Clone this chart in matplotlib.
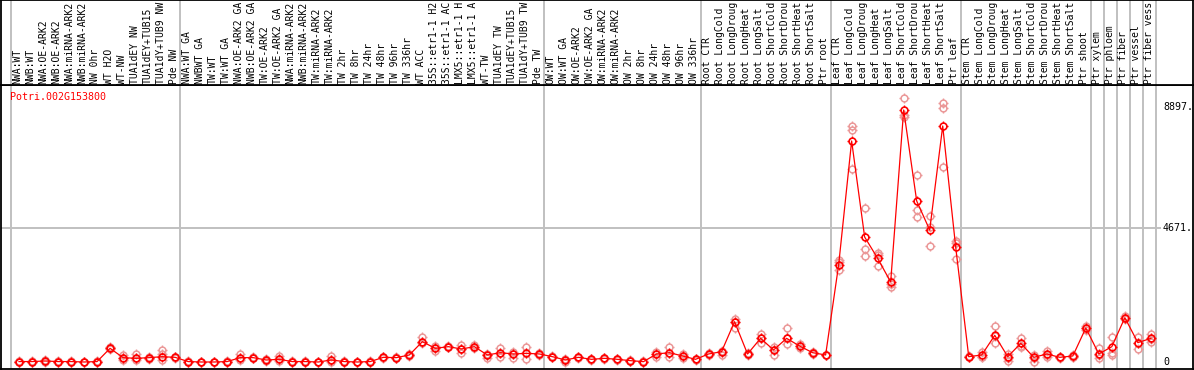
import matplotlib
matplotlib.use("Agg")
import matplotlib.pyplot as plt
from matplotlib.path import Path

labels = [
    "NWA:WT", "NWB:WT", "NWA:OE-ARK2", "NWB:OE-ARK2", "NWA:miRNA-ARK2", "NWB:miRNA-ARK2",
    "NW 0hr", "WT H2O", "WT-NW", "TUA1dEY NW", "TUA1dEY+TUB15", "TUA1dY+TUB9 NW", "Pde NW",
    "NWA:WT GA", "NWBWT GA", "TW:WT", "TW:WT GA", "NWA:OE-ARK2 GA", "NWB:OE-ARK2 GA",
    "TW:OE-ARK2", "TW:OE-ARK2 GA", "NWA:miRNA-ARK2", "NWB:miRNA-ARK2", "TW:miRNA-ARK2",
    "TW:miRNA-ARK2", "TW 2hr", "TW 8hr", "TW 24hr", "TW 48hr", "TW 96hr", "TW 336hr",
    "WT ACC", "35S::etr1-1 H2O", "35S::etr1-1 ACC", "LMX5::etr1-1 H2O", "LMX5::etr1-1 ACC",
    "WT-TW", "TUA1dEY TW", "TUA1dEY+TUB15", "TUA1dY+TUB9 TW", "Pde TW",
    "OW:WT", "OW:WT GA", "OW:OE-ARK2", "OW:OE-ARK2 GA", "OW:miRNA-ARK2", "OW:miRNA-ARK2",
    "OW 2hr", "OW 8hr", "OW 24hr", "OW 48hr", "OW 96hr", "OW 336hr",
    "Root CTR", "Root LongCold", "Root LongDrought", "Root LongHeat", "Root LongSalt",
    "Root ShortCold", "Root ShortDrought", "Root ShortHeat", "Root ShortSalt", "Ptr root",
    "Leaf CTR", "Leaf LongCold", "Leaf LongDrought", "Leaf LongHeat", "Leaf LongSalt",
    "Leaf ShortCold", "Leaf ShortDrought", "Leaf ShortHeat", "Leaf ShortSalt", "Ptr leaf",
    "Stem CTR", "Stem LongCold", "Stem LongDrought", "Stem LongHeat", "Stem LongSalt",
    "Stem ShortCold", "Stem ShortDrought", "Stem ShortHeat", "Stem ShortSalt", "Ptr shoot",
    "Ptr xylem", "Ptr phloem", "Ptr fiber", "Ptr vessel", "Ptr fiber vessel",
]

means = [
    15, 15, 35, 15, 15, 0, 15, 478, 152, 128, 152, 186, 163,
    15, 0, 0, 15, 152, 152, 70, 93, 15, 15, 0, 70, 15, 0, 15, 163, 152, 245,
    710, 478, 536, 454, 536, 245, 326, 280, 303, 280,
    186, 70, 163, 93, 128, 93, 47, 12, 280, 326, 210, 93,
    280, 361, 1408, 280, 827, 420, 827, 559, 326, 245,
    3389, 7722, 4367, 3622, 2795, 8805, 5625, 4612, 8246, 4006,
    186, 245, 932, 186, 652, 163, 280, 163, 210, 1188,
    280, 536, 1549, 676, 827,
]

replicates = [
    [10, 20, 15], [15, 10, 20], [80, 20, 5], [20, 10, 15], [15, 20, 10], [5, 0, 0],
    [20, 15, 10], [520, 478, 440], [245, 150, 60], [280, 128, 60], [180, 152, 120],
    [420, 290, 60], [180, 163, 150],
    [20, 10, 15], [0, 5, 0], [0, 5, 0], [20, 10, 15], [290, 152, 70], [190, 152, 130],
    [90, 70, 50], [210, 93, 20], [20, 10, 15], [20, 10, 15], [0, 5, 0], [210, 70, 0],
    [20, 10, 15], [0, 5, 0], [20, 10, 15], [190, 163, 140], [170, 152, 130], [280, 245, 210],
    [885, 710, 650], [560, 478, 400], [560, 536, 510], [594, 454, 303], [580, 536, 500],
    [280, 245, 128], [500, 326, 186], [350, 280, 128], [513, 303, 93], [300, 280, 260],
    [210, 186, 160], [120, 70, 0], [180, 163, 150], [110, 93, 80], [140, 128, 110],
    [110, 93, 80], [60, 47, 30], [50, 10, 0], [361, 280, 186], [513, 326, 163],
    [280, 210, 140], [100, 93, 80],
    [300, 280, 260], [400, 361, 245], [1502, 1408, 1177], [300, 280, 260], [967, 827, 675],
    [536, 420, 245], [1177, 827, 618], [620, 559, 500], [360, 326, 290], [260, 245, 230],
    [3564, 3505, 3215], [8246, 8106, 6733], [5370, 3938, 3714], [3819, 3739, 3365],
    [3005, 2725, 2610], [9214, 8630, 8550], [6534, 5311, 5056], [5101, 4728, 4053],
    [9039, 8864, 6803], [4238, 4168, 3588],
    [200, 186, 170], [360, 185, 163], [1258, 908, 652], [280, 129, 45], [849, 559, 513],
    [245, 129, 10], [395, 245, 186], [180, 163, 140], [245, 186, 186], [1268, 1177, 1118],
    [478, 245, 129], [885, 326, 245], [1607, 1549, 1491], [862, 652, 443], [978, 793, 709],
]

group_ends = [-1, 12, 40, 52, 62, 72, 82, 83, 84, 85, 86, 87]
ytick_values = [0, 4671, 8897]
ytick_labels = ["0", "4671.", "8897."]
gene = "Potri.002G153800"
max_label_chars = 14

W, H = 1194, 370
FONT = "DejaVu Sans Mono"
FS = 7.2
FS_HDR = 7.0
GRID = "#c0c0c0"
PINK = "#eb9898"
RED = "#ff0000"


def frect(x0, y0, x1, y1):
    return [x0 / W, 1 - y1 / H, (x1 - x0) / W, (y1 - y0) / H]


fig = plt.figure(figsize=(W / 100, H / 100), dpi=100)

# pixel mapping: x_px = 19 + 13.01 * i ; value = (362 - y_px) * 34.94
step = 13.01
xl = ((1 - 19) / step, (1193 - 19) / step)
vs = 34.94
yl = (-(369 - 362) * vs, (362 - 85) * vs)

ax = fig.add_axes(frect(1, 85, 1193, 369))
ax.set_xlim(*xl)
ax.set_ylim(*yl)
ax.set_xticks([])
ax.set_yticks([])
for s in ax.spines.values():
    s.set_color("black")
    s.set_linewidth(1.3)

hx = fig.add_axes(frect(1, 0, 1193, 85))
hx.set_xlim(*xl)
hx.set_ylim(0, 85)
hx.set_xticks([])
hx.set_yticks([])
for s in hx.spines.values():
    s.set_color("black")
    s.set_linewidth(1.3)

for k in group_ends:
    xd = k + 0.385
    ax.axvline(xd, color=GRID, lw=1.4, zorder=1)
    hx.axvline(xd, color=GRID, lw=1.4, zorder=1)

x_label_px = 1163
x_lab = (x_label_px - 19) / step
ax.hlines(4671, xl[0], (1161 - 19) / step, color=GRID, lw=1.4, zorder=1)
for v, t in zip(ytick_values, ytick_labels):
    ax.text(x_lab, v, t, ha="left", va="center", fontsize=FS, family=FONT, color="black")

ax.text((10 - 19) / step, (362 - 97) * vs, gene, ha="left", va="center",
        fontsize=FS, family=FONT, color=RED)

for i, lab in enumerate(labels):
    hx.text(i - 0.12, 1.5, lab[:max_label_chars], rotation=90, ha="center", va="bottom",
            fontsize=FS_HDR, family=FONT, color="black")

stub = Path([(0, 0.62), (0, 1), (0, -0.62), (0, -1), (0.62, 0), (1, 0), (-0.62, 0), (-1, 0)],
            [Path.MOVETO, Path.LINETO] * 4)

xs = list(range(len(labels)))
for i, reps in enumerate(replicates):
    rx = [i] * len(reps)
    ax.plot(rx, reps, ls="none", marker="o", ms=4.9, mfc="none", mec=PINK, mew=1.1, zorder=2)
    ax.plot(rx, reps, ls="none", marker=stub, ms=7.6, mec=PINK, mew=1.0, zorder=2)

ax.plot(xs, means, color=RED, lw=0.9, zorder=3)
ax.plot(xs, means, ls="none", marker="o", ms=4.9, mfc="none", mec=RED, mew=1.2, zorder=4)
ax.plot(xs, means, ls="none", marker=stub, ms=7.6, mec=RED, mew=1.0, zorder=4)

fig.savefig("out.png", dpi=100)
